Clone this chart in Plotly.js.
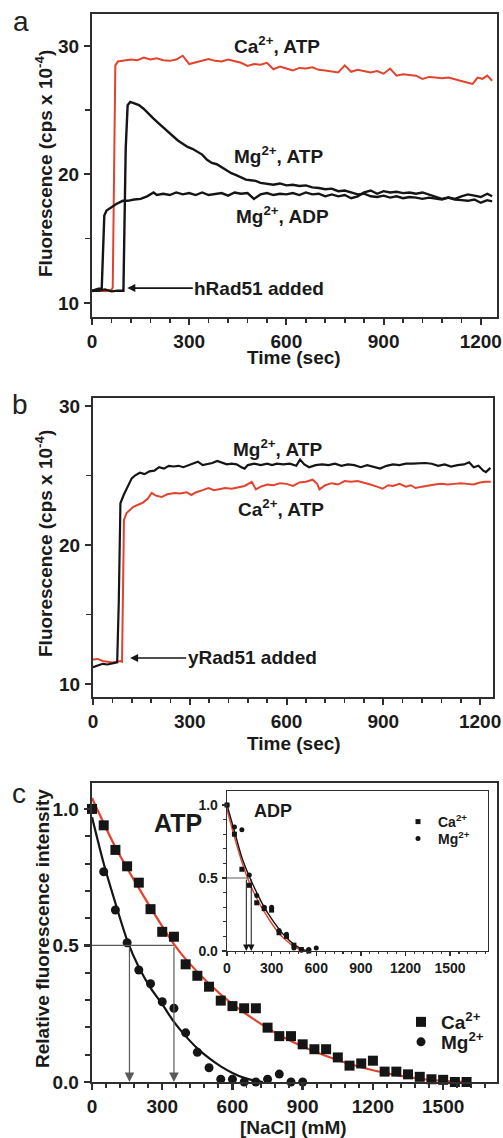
<!DOCTYPE html>
<html><head><meta charset="utf-8">
<script src="https://cdn.plot.ly/plotly-3.0.1.min.js"></script>
<style>html,body{margin:0;padding:0;background:#fff}#p{width:503px;height:1138px}</style>
</head><body><div id="p"></div>
<script>
// ---------- Panel a: hRad51 ----------
const aCaATP_t = [0,20,40,60,64,72,80,100,120,140,160,180,200,220,240,260,280,300,320,340,360,380,400,420,440,460,480,500,520,540,560,580,600,620,640,660,680,700,720,740,760,780,800,820,840,860,880,900,920,940,960,980,1000,1020,1040,1060,1080,1100,1120,1140,1160,1175,1190,1205,1220,1235];
const aCaATP_y = [10.9,10.95,10.9,11.0,11.2,28.5,28.8,28.9,28.95,28.9,29.1,28.95,29.05,28.9,28.85,28.95,29.25,28.6,28.75,28.9,29.0,28.85,28.8,28.95,28.85,28.7,28.45,28.6,28.55,28.7,28.2,28.4,28.25,28.1,28.3,28.25,28.35,28.15,28.1,28.0,27.95,28.5,28.0,28.15,28.05,27.95,28.05,27.85,28.25,27.7,27.8,27.75,27.7,27.45,27.6,27.55,27.5,27.55,27.4,27.3,27.15,27.05,27.55,27.45,27.7,27.3];

const aMgATP_t = [0,20,40,60,80,97,104,110,118,130,145,160,175,190,205,220,235,250,265,280,295,310,325,340,355,370,385,400,415,430,445,460,475,490,505,520,540,560,580,600,620,640,660,680,700,720,740,760,780,800,820,840,860,880,900,920,940,960,980,1000,1020,1040,1060,1080,1100,1120,1140,1160,1180,1200,1220,1235];
const aMgATP_y = [10.95,10.95,11.05,10.9,10.95,10.95,22.0,25.4,25.65,25.55,25.4,25.1,24.7,24.35,24.0,23.65,23.3,22.95,22.65,22.4,22.15,22.0,21.8,21.55,21.15,20.9,20.8,20.55,20.35,20.1,19.95,19.8,19.6,19.55,19.5,19.35,19.25,19.2,19.3,19.15,19.2,19.1,19.15,19.0,18.95,18.85,18.9,18.7,18.75,18.6,18.45,18.5,18.3,18.25,18.35,18.2,18.3,18.15,18.25,18.2,18.1,18.2,18.15,18.05,18.2,18.1,18.3,18.45,18.35,18.25,18.5,18.3];

const aMgADP_t = [0,20,30,38,45,60,75,95,110,130,150,170,190,200,220,240,260,280,300,320,340,360,380,400,420,440,460,480,500,520,540,560,580,600,620,640,660,680,700,720,740,760,780,800,820,840,860,880,900,920,940,960,980,1000,1020,1040,1060,1080,1100,1120,1140,1160,1180,1200,1220,1235];
const aMgADP_y = [10.95,11.1,11.1,16.8,17.2,17.45,17.7,17.95,17.95,18.05,18.1,18.3,18.6,18.4,18.5,18.4,18.6,18.45,18.55,18.4,18.6,18.4,18.5,18.55,18.35,18.6,18.5,18.55,18.1,18.45,18.55,18.4,18.5,18.45,18.55,18.4,18.6,18.45,18.5,18.3,18.45,18.3,18.4,18.15,18.3,18.6,18.75,18.5,18.7,18.6,18.65,18.55,18.6,18.5,18.6,18.45,18.3,18.1,18.2,18.05,18.0,17.95,18.05,17.8,18.0,17.9];

// ---------- Panel b: yRad51 ----------
const bMgATP_t = [0,15,30,45,60,75,80,85,95,110,120,130,145,160,175,190,205,220,235,250,265,280,295,310,325,340,355,370,385,400,415,430,445,460,470,480,500,520,540,555,570,590,610,630,642,655,670,690,710,730,750,770,790,810,830,850,870,890,910,930,950,970,990,1010,1030,1050,1070,1090,1110,1130,1150,1166,1180,1195,1210,1218,1232];
const bMgATP_y = [11.2,11.3,11.45,11.4,11.5,11.55,16.0,23.0,23.6,24.4,24.8,25.0,25.2,25.1,25.3,25.35,25.6,25.5,25.7,25.65,25.7,25.6,25.75,25.85,26.0,25.75,25.8,25.9,26.05,25.9,25.8,25.85,25.8,25.6,25.5,25.75,25.85,25.75,25.85,25.75,25.85,25.8,25.85,25.7,26.15,25.8,25.6,25.75,25.8,25.75,25.85,25.7,25.8,25.75,25.6,25.75,25.65,25.5,25.7,25.8,25.75,25.85,25.85,25.9,25.9,25.85,25.7,25.8,25.65,25.75,25.8,25.95,25.6,25.7,25.35,25.25,25.55];

const bCaATP_t = [0,15,30,45,60,75,85,90,96,104,115,125,140,155,170,182,195,213,230,254,270,290,305,320,340,358,375,390,410,430,450,470,492,505,520,540,560,580,600,620,640,660,681,695,702,720,740,760,780,800,820,840,860,880,898,915,930,950,970,985,1000,1020,1040,1060,1080,1100,1120,1140,1160,1180,1200,1215,1233];
const bCaATP_y = [11.75,11.8,11.65,11.6,11.55,11.6,11.65,11.6,21.8,22.3,22.55,22.75,22.9,23.05,23.35,23.75,23.55,23.45,23.65,23.75,23.7,23.8,23.6,23.8,23.95,24.1,23.95,24.0,24.1,24.05,24.15,24.25,24.55,24.0,24.2,24.35,24.3,24.45,24.4,24.25,24.5,24.55,24.7,24.4,24.0,24.3,24.45,24.35,24.6,24.55,24.6,24.5,24.35,24.2,24.05,24.3,24.25,24.4,24.2,24.3,24.1,24.2,24.3,24.35,24.4,24.35,24.4,24.45,24.4,24.35,24.5,24.55,24.55];

// ---------- Panel c: NaCl titration (ATP) ----------
const cCa_x = [0,50,100,150,200,250,300,350,400,450,500,550,600,650,700,750,800,850,900,950,1000,1050,1100,1150,1200,1250,1300,1350,1400,1450,1500,1550,1600];
const cCa_y = [1.0,0.94,0.85,0.79,0.73,0.633,0.55,0.532,0.431,0.389,0.349,0.298,0.278,0.27,0.27,0.199,0.168,0.168,0.138,0.12,0.12,0.09,0.06,0.068,0.078,0.038,0.038,0.028,0.019,0.01,0.008,0.0,0.0];
const cMg_x = [0,50,100,150,200,250,300,350,400,450,500,550,600,650,700,750,800,850,900];
const cMg_y = [1.0,0.77,0.63,0.51,0.41,0.36,0.294,0.27,0.18,0.109,0.052,0.01,0.01,0.0,0.0,0.01,0.029,0.0,0.0];
const cCaFit_x = [0,100,200,300,350,400,500,600,700,800,900,1000,1100,1200,1300,1400,1500,1600];
const cCaFit_y = [1.04,0.86,0.71,0.57,0.505,0.45,0.36,0.285,0.225,0.172,0.13,0.095,0.066,0.043,0.025,0.012,0.004,0.0];
const cMgFit_x = [0,50,100,150,200,250,300,350,400,450,500,550,600,650,700,730];
const cMgFit_y = [0.97,0.80,0.655,0.52,0.42,0.345,0.285,0.22,0.168,0.123,0.087,0.057,0.033,0.015,0.004,0.0];
const cHalfCa = 350, cHalfMg = 160;

// ---------- Inset: ADP ----------
const iCa_x = [0,50,100,150,200,250,300,350,400,450,500,550];
const iCa_y = [1.0,0.80,0.56,0.45,0.33,0.29,0.28,0.125,0.10,0.04,0.01,0.0];
const iMg_x = [0,50,100,150,200,250,300,350,400,450,500,550,600];
const iMg_y = [1.0,0.85,0.83,0.52,0.38,0.30,0.30,0.14,0.115,0.02,0.005,0.01,0.02];
const iCaFit_x = [0,50,100,150,200,250,300,350,400,450,500,530];
const iCaFit_y = [0.97,0.78,0.61,0.47,0.36,0.27,0.19,0.12,0.07,0.03,0.005,0.0];
const iMgFit_x = [0,50,100,150,200,250,300,350,400,450,500,550];
const iMgFit_y = [1.0,0.82,0.64,0.51,0.40,0.30,0.22,0.15,0.09,0.045,0.015,0.0];
const iHalfCa = 130, iHalfMg = 163;

const timeTicks = [0,300,600,900,1200];
const naclTicks = [0,300,600,900,1200,1500];

// ---------- drawing ----------
const W = 503, H = 1138;
const px = v => v / W, py = v => 1 - v / H;
const RED = '#e2432d', BLK = '#151515', AX = '#2e2e2e', GRY = '#5a5a5a';
const FF = '"Liberation Sans", Arial, Helvetica, sans-serif';
const bold = (s, c) => ({family: FF, size: s, color: c || '#1a1a1a', weight: 'bold'});

function line(x, y, xa, ya, color, w, shape) {
  return {x, y, xaxis: xa, yaxis: ya, type: 'scatter', mode: 'lines', showlegend: false,
    hoverinfo: 'skip', line: {color, width: w, shape: shape || 'linear', smoothing: 0.8}};
}
function pts(x, y, xa, ya, sym, size, name, legend) {
  return {x, y, xaxis: xa, yaxis: ya, type: 'scatter', mode: 'markers', name,
    showlegend: true, legend, cliponaxis: false, hoverinfo: 'skip',
    marker: {symbol: sym, size, color: BLK, line: {width: 0}}};
}

const traces = [
  line(aCaATP_t, aCaATP_y, 'x', 'y', RED, 2),
  line(aMgADP_t, aMgADP_y, 'x', 'y', BLK, 2.4),
  line(aMgATP_t, aMgATP_y, 'x', 'y', BLK, 2.4),
  line(bCaATP_t, bCaATP_y, 'x2', 'y2', RED, 2),
  line(bMgATP_t, bMgATP_y, 'x2', 'y2', BLK, 2.2),
  line(cCaFit_x, cCaFit_y, 'x3', 'y3', RED, 2.2, 'spline'),
  line(cMgFit_x, cMgFit_y, 'x3', 'y3', BLK, 2.2, 'spline'),
  pts(cCa_x, cCa_y, 'x3', 'y3', 'square', 10, 'Ca<sup>2+</sup>', 'legend'),
  pts(cMg_x, cMg_y, 'x3', 'y3', 'circle', 9, 'Mg<sup>2+</sup>', 'legend3'),
  line(iCaFit_x, iCaFit_y, 'x4', 'y4', RED, 1.4, 'spline'),
  line(iMgFit_x, iMgFit_y, 'x4', 'y4', BLK, 1.4, 'spline'),
  pts(iCa_x, iCa_y, 'x4', 'y4', 'square', 5, 'Ca<sup>2+</sup>', 'legend2'),
  pts(iMg_x, iMg_y, 'x4', 'y4', 'circle', 5, 'Mg<sup>2+</sup>', 'legend4'),
];

function xax(dom, range, tickvals, minor, anchor, fs, lw, tl) {
  return {domain: dom, range, anchor, tickmode: 'array', tickvals, ticks: 'outside', ticklen: tl || 6,
    tickwidth: lw, tickcolor: AX, linecolor: AX, linewidth: lw, mirror: true, showgrid: false, zeroline: false,
    tickfont: bold(fs), minor: {dtick: minor, tick0: 0, ticks: 'outside', ticklen: (tl || 6) - 2, tickwidth: lw * 0.8, tickcolor: AX, showgrid: false},
    fixedrange: true};
}
function yax(dom, range, tickvals, ticktext, minor, anchor, fs, lw, tl) {
  return {domain: dom, range, anchor, tickmode: 'array', tickvals, ticktext, ticks: 'outside', ticklen: tl || 6,
    tickwidth: lw, tickcolor: AX, linecolor: AX, linewidth: lw, mirror: true, showgrid: false, zeroline: false,
    tickfont: bold(fs), minor: {dtick: minor, tick0: 0, ticks: 'outside', ticklen: (tl || 6) - 1, tickwidth: lw * 0.8, tickcolor: AX, showgrid: false},
    ticklabelstandoff: 1, fixedrange: true};
}
function leg(x, y, fs) {
  return {x: px(x), y: py(y), xanchor: 'left', yanchor: 'middle', bgcolor: 'rgba(0,0,0,0)',
    font: bold(fs), itemclick: false, itemdoubleclick: false, borderwidth: 0};
}
function txt(text, x, y, size, extra) {
  return Object.assign({text, xref: 'paper', yref: 'paper', x: px(x), y: py(y), xanchor: 'center', yanchor: 'middle',
    showarrow: false, font: bold(size)}, extra || {});
}

const layout = {
  width: W, height: H, margin: {l: 0, r: 0, t: 0, b: 0},
  paper_bgcolor: '#fff', plot_bgcolor: 'rgba(0,0,0,0)',
  font: {family: FF},
  xaxis: xax([px(92), px(497)], [0, 1250], timeTicks, 60, 'y', 19, 2),
  yaxis: yax([py(317), py(14)], [8.9, 32.5], [10, 20, 30], ['10', '20', '30'], 5, 'x', 19, 2),
  xaxis2: xax([px(93), px(493)], [0, 1240], timeTicks, 60, 'y2', 19, 2),
  yaxis2: yax([py(697), py(398)], [9.06, 30.58], [10, 20, 30], ['10', '20', '30'], 5, 'x2', 19, 2),
  xaxis3: xax([px(92), px(497)], [0, 1730], naclTicks, 60, 'y3', 19, 2.4),
  yaxis3: yax([py(1082), py(783)], [0, 1.095], [0, 0.5, 1], ['0.0', '0.5', '1.0'], 0.1, 'x3', 19, 2.4),
  xaxis4: xax([px(227), px(488)], [0, 1755], naclTicks, 60, 'y4', 14, 1.3, 4),
  yaxis4: yax([py(951), py(791)], [0, 1.096], [0, 0.5, 1], ['0.0', '0.5', '1.0'], 0.1, 'x4', 14, 1.3, 4),
  legend: leg(401, 1022, 19),
  legend3: leg(401, 1042, 19),
  legend2: leg(398, 822, 14),
  legend4: leg(398, 839, 14),
  shapes: [
    {type: 'line', xref: 'x3', yref: 'y3', x0: 0, x1: cHalfCa, y0: 0.5, y1: 0.5, line: {color: GRY, width: 1.2}},
    {type: 'line', xref: 'x4', yref: 'y4', x0: 0, x1: iHalfMg, y0: 0.5, y1: 0.5, line: {color: GRY, width: 1}},
  ],
  annotations: [
    // panel letters
    txt('a', 21, 22, 28, {font: {family: FF, size: 28, color: '#222'}}),
    txt('b', 20, 405, 28, {font: {family: FF, size: 28, color: '#222'}}),
    txt('c', 19, 793, 28, {font: {family: FF, size: 28, color: '#222'}}),
    // axis titles
    txt('Fluorescence (cps x 10<sup>-4</sup>)', 44, 164, 19, {textangle: -90}),
    txt('Time (sec)', 294, 357, 19),
    txt('Fluorescence (cps x 10<sup>-4</sup>)', 44, 544, 19, {textangle: -90}),
    txt('Time (sec)', 294, 743, 19),
    txt('Relative fluorescence intensity', 42, 929, 19, {textangle: -90}),
    txt('[NaCl] (mM)', 293, 1127, 19),
    // panel a labels
    txt('Ca<sup>2+</sup>, ATP', 277, 45, 19),
    txt('Mg<sup>2+</sup>, ATP', 278, 155, 19),
    txt('Mg<sup>2+</sup>, ADP', 282, 215, 19),
    {text: 'hRad51 added', xref: 'x', yref: 'y', x: 109, y: 11.15, ax: 132, ay: 0, showarrow: true,
      arrowhead: 2, arrowsize: 1, arrowwidth: 1.6, arrowcolor: BLK, font: bold(19)},
    // panel b labels
    txt('Mg<sup>2+</sup>, ATP', 277, 448, 19),
    txt('Ca<sup>2+</sup>, ATP', 281, 508, 19),
    {text: 'yRad51 added', xref: 'x2', yref: 'y2', x: 115, y: 11.87, ax: 122, ay: 0, showarrow: true,
      arrowhead: 2, arrowsize: 1, arrowwidth: 1.6, arrowcolor: BLK, font: bold(19)},
    // panel c labels
    txt('ATP', 178, 823, 25),
    txt('ADP', 273, 811, 18),
    // half-point arrows (main)
    {xref: 'x3', yref: 'y3', axref: 'x3', ayref: 'y3', x: cHalfMg, y: 0, ax: cHalfMg, ay: 0.5, text: '', showarrow: true,
      arrowhead: 2, arrowsize: 1.6, arrowwidth: 1.2, arrowcolor: GRY},
    {xref: 'x3', yref: 'y3', axref: 'x3', ayref: 'y3', x: cHalfCa, y: 0, ax: cHalfCa, ay: 0.5, text: '', showarrow: true,
      arrowhead: 2, arrowsize: 1.6, arrowwidth: 1.2, arrowcolor: GRY},
    // half-point arrows (inset)
    {xref: 'x4', yref: 'y4', axref: 'x4', ayref: 'y4', x: iHalfCa, y: 0, ax: iHalfCa, ay: 0.5, text: '', showarrow: true,
      arrowhead: 2, arrowsize: 1.3, arrowwidth: 1, arrowcolor: BLK},
    {xref: 'x4', yref: 'y4', axref: 'x4', ayref: 'y4', x: iHalfMg, y: 0, ax: iHalfMg, ay: 0.5, text: '', showarrow: true,
      arrowhead: 2, arrowsize: 1.3, arrowwidth: 1, arrowcolor: BLK},
  ]
};

Plotly.newPlot('p', traces, layout, {staticPlot: true, displayModeBar: false});
</script>
</body></html>
